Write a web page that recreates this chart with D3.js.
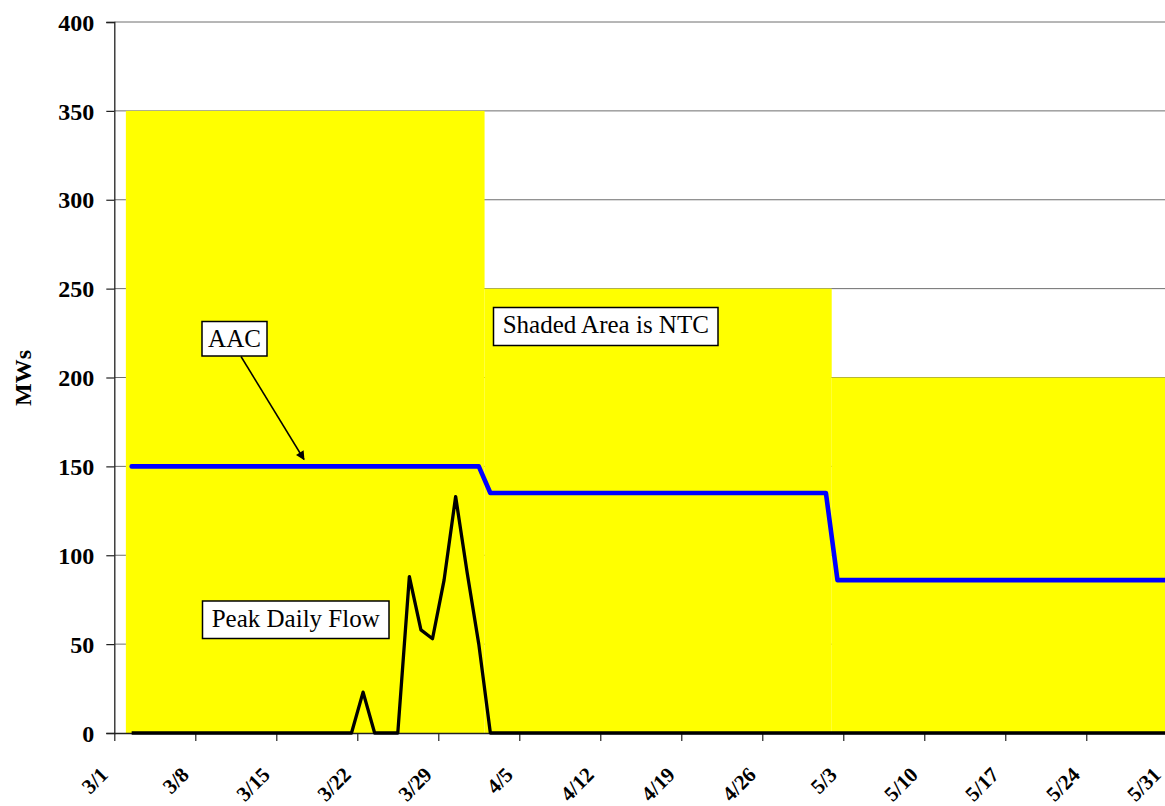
<!DOCTYPE html>
<html>
<head>
<meta charset="utf-8">
<script src="https://cdn.jsdelivr.net/npm/d3@7"></script>
<style>
  html, body { margin: 0; padding: 0; background: #ffffff; }
  svg { display: block; }
  svg text { font-family: "Liberation Serif", "Times New Roman", serif !important; }
</style>
</head>
<body>
<svg id="chart" width="1165" height="806"></svg>
<script>
// ---- data ----
const YEAR = 2001;
const xTickLabels = ["3/1", "3/8", "3/15", "3/22", "3/29", "4/5", "4/12", "4/19", "4/26", "5/3", "5/10", "5/17", "5/24", "5/31"];
const yTickValues = [0, 50, 100, 150, 200, 250, 300, 350, 400];

// NTC (shaded area), MW per period of days
const ntcFrom  = ["3/2", "4/2", "5/2"];
const ntcTo    = ["4/1", "5/1", "5/31"];
const ntcValue = [350, 250, 200];

// AAC, MW
const aacDates  = ["3/2", "4/1", "4/2", "5/1", "5/2", "5/31"];
const aacValues = [150, 150, 135, 135, 86, 86];

// Peak daily flow, MW
const flowDates  = ["3/2", "3/21", "3/22", "3/23", "3/24", "3/25", "3/26", "3/27", "3/28", "3/29", "3/30", "3/31", "4/1", "4/2", "5/31"];
const flowValues = [0, 0, 23, 0, 0, 0, 88, 58, 53, 86, 133, 90, 50, 0, 0];

// ---- helpers ----
const SERIF = "'Liberation Serif', 'Times New Roman', serif";
const parseMD = s => { const [m, d] = s.split("/").map(Number); return new Date(Date.UTC(YEAR, m - 1, d)); };
const dayMid = s => d3.utcHour.offset(parseMD(s), 12);

// ---- layout ----
const svg = d3.select("#chart");
const left = 114.3, dayPx = 11.571;
const x = d3.scaleUtc()
  .domain([parseMD("3/1"), parseMD("6/1")])
  .range([left, left + 92 * dayPx]);
const y = d3.scaleLinear().domain([0, 400]).range([733, 22]);
const plotRight = 1165;

// gridlines
svg.append("g")
  .selectAll("line")
  .data(yTickValues.filter(v => v > 0))
  .join("line")
  .attr("x1", left).attr("x2", plotRight)
  .attr("y1", d => y(d)).attr("y2", d => y(d))
  .attr("stroke", "#6e6e6e").attr("stroke-width", 1);

// NTC shaded columns
svg.append("g")
  .selectAll("rect")
  .data(ntcValue.map((v, i) => ({ from: parseMD(ntcFrom[i]), to: d3.utcDay.offset(parseMD(ntcTo[i]), 1), v })))
  .join("rect")
  .attr("x", d => x(d.from))
  .attr("width", d => x(d.to) - x(d.from))
  .attr("y", d => y(d.v))
  .attr("height", d => y(0) - y(d.v))
  .attr("fill", "#ffff00");

// y axis
const yAxis = svg.append("g").attr("transform", `translate(${left},0)`)
  .call(d3.axisLeft(y).tickValues(yTickValues).tickSize(8).tickPadding(12));
yAxis.attr("font-family", SERIF);
yAxis.select(".domain").attr("stroke", "#222").attr("stroke-width", 1.3);
yAxis.selectAll(".tick line").attr("stroke", "#222").attr("stroke-width", 1.2);
yAxis.selectAll(".tick text")
  .attr("font-family", SERIF)
  .attr("font-size", 24).attr("font-weight", "bold").attr("fill", "#000")
  .attr("dy", "0.34em");

// x axis
const xAxis = svg.append("g").attr("transform", `translate(0,${y(0)})`)
  .call(d3.axisBottom(x).tickValues(xTickLabels.map(parseMD)).tickSize(8).tickFormat(""));
xAxis.select(".domain").attr("stroke", "#222").attr("stroke-width", 1.3)
  .attr("d", `M${left},0.5H${plotRight + 20}`);
xAxis.selectAll(".tick line").attr("stroke", "#222").attr("stroke-width", 1.2);

svg.append("g")
  .selectAll("text")
  .data(xTickLabels)
  .join("text")
  .attr("transform", d => `translate(${x(parseMD(d)) - 5},776) rotate(-45)`)
  .attr("text-anchor", "end")
  .attr("font-family", SERIF)
  .attr("font-size", 21).attr("font-weight", "bold").attr("fill", "#000")
  .text(d => d);

// y axis title
svg.append("text")
  .attr("transform", "translate(31,378) rotate(-90)")
  .attr("text-anchor", "middle")
  .attr("font-family", SERIF)
  .attr("font-size", 24).attr("font-weight", "bold")
  .text("MWs");

// AAC line
const line = d3.line().x(d => x(d[0])).y(d => y(d[1]));
svg.append("path")
  .datum(aacDates.map((d, i) => [dayMid(d), aacValues[i]]))
  .attr("d", line)
  .attr("fill", "none").attr("stroke", "#0000ff").attr("stroke-width", 4.6)
  .attr("stroke-linejoin", "round").attr("stroke-linecap", "round");

// Peak daily flow line
svg.append("path")
  .datum(flowDates.map((d, i) => [dayMid(d), flowValues[i]]))
  .attr("d", line)
  .attr("fill", "none").attr("stroke", "#000").attr("stroke-width", 3.3)
  .attr("stroke-linejoin", "round");

// annotation boxes
function labelBox(x0, y0, w, h, txt) {
  const g = svg.append("g");
  g.append("rect").attr("x", x0).attr("y", y0).attr("width", w).attr("height", h)
    .attr("fill", "#fff").attr("stroke", "#000").attr("stroke-width", 1.5);
  g.append("text").attr("x", x0 + w / 2).attr("y", y0 + 25.5)
    .attr("text-anchor", "middle")
    .attr("font-family", SERIF)
    .attr("font-size", 25).attr("fill", "#000")
    .text(txt);
}
labelBox(202, 321.5, 65, 34.5, "AAC");
labelBox(493.5, 307.5, 224.5, 38, "Shaded Area is NTC");
labelBox(202.5, 601, 186.5, 37.5, "Peak Daily Flow");

// arrow from the AAC label to its line
svg.append("defs").append("marker")
  .attr("id", "arrowHead").attr("viewBox", "0 0 10 10")
  .attr("refX", 9).attr("refY", 5)
  .attr("markerWidth", 11).attr("markerHeight", 9)
  .attr("markerUnits", "userSpaceOnUse").attr("orient", "auto")
  .append("path").attr("d", "M0,0L10,5L0,10Z").attr("fill", "#000");
svg.append("line")
  .attr("x1", 241).attr("y1", 356.5)
  .attr("x2", 304).attr("y2", 459.5)
  .attr("stroke", "#000").attr("stroke-width", 1.5)
  .attr("marker-end", "url(#arrowHead)");
</script>
</body>
</html>
